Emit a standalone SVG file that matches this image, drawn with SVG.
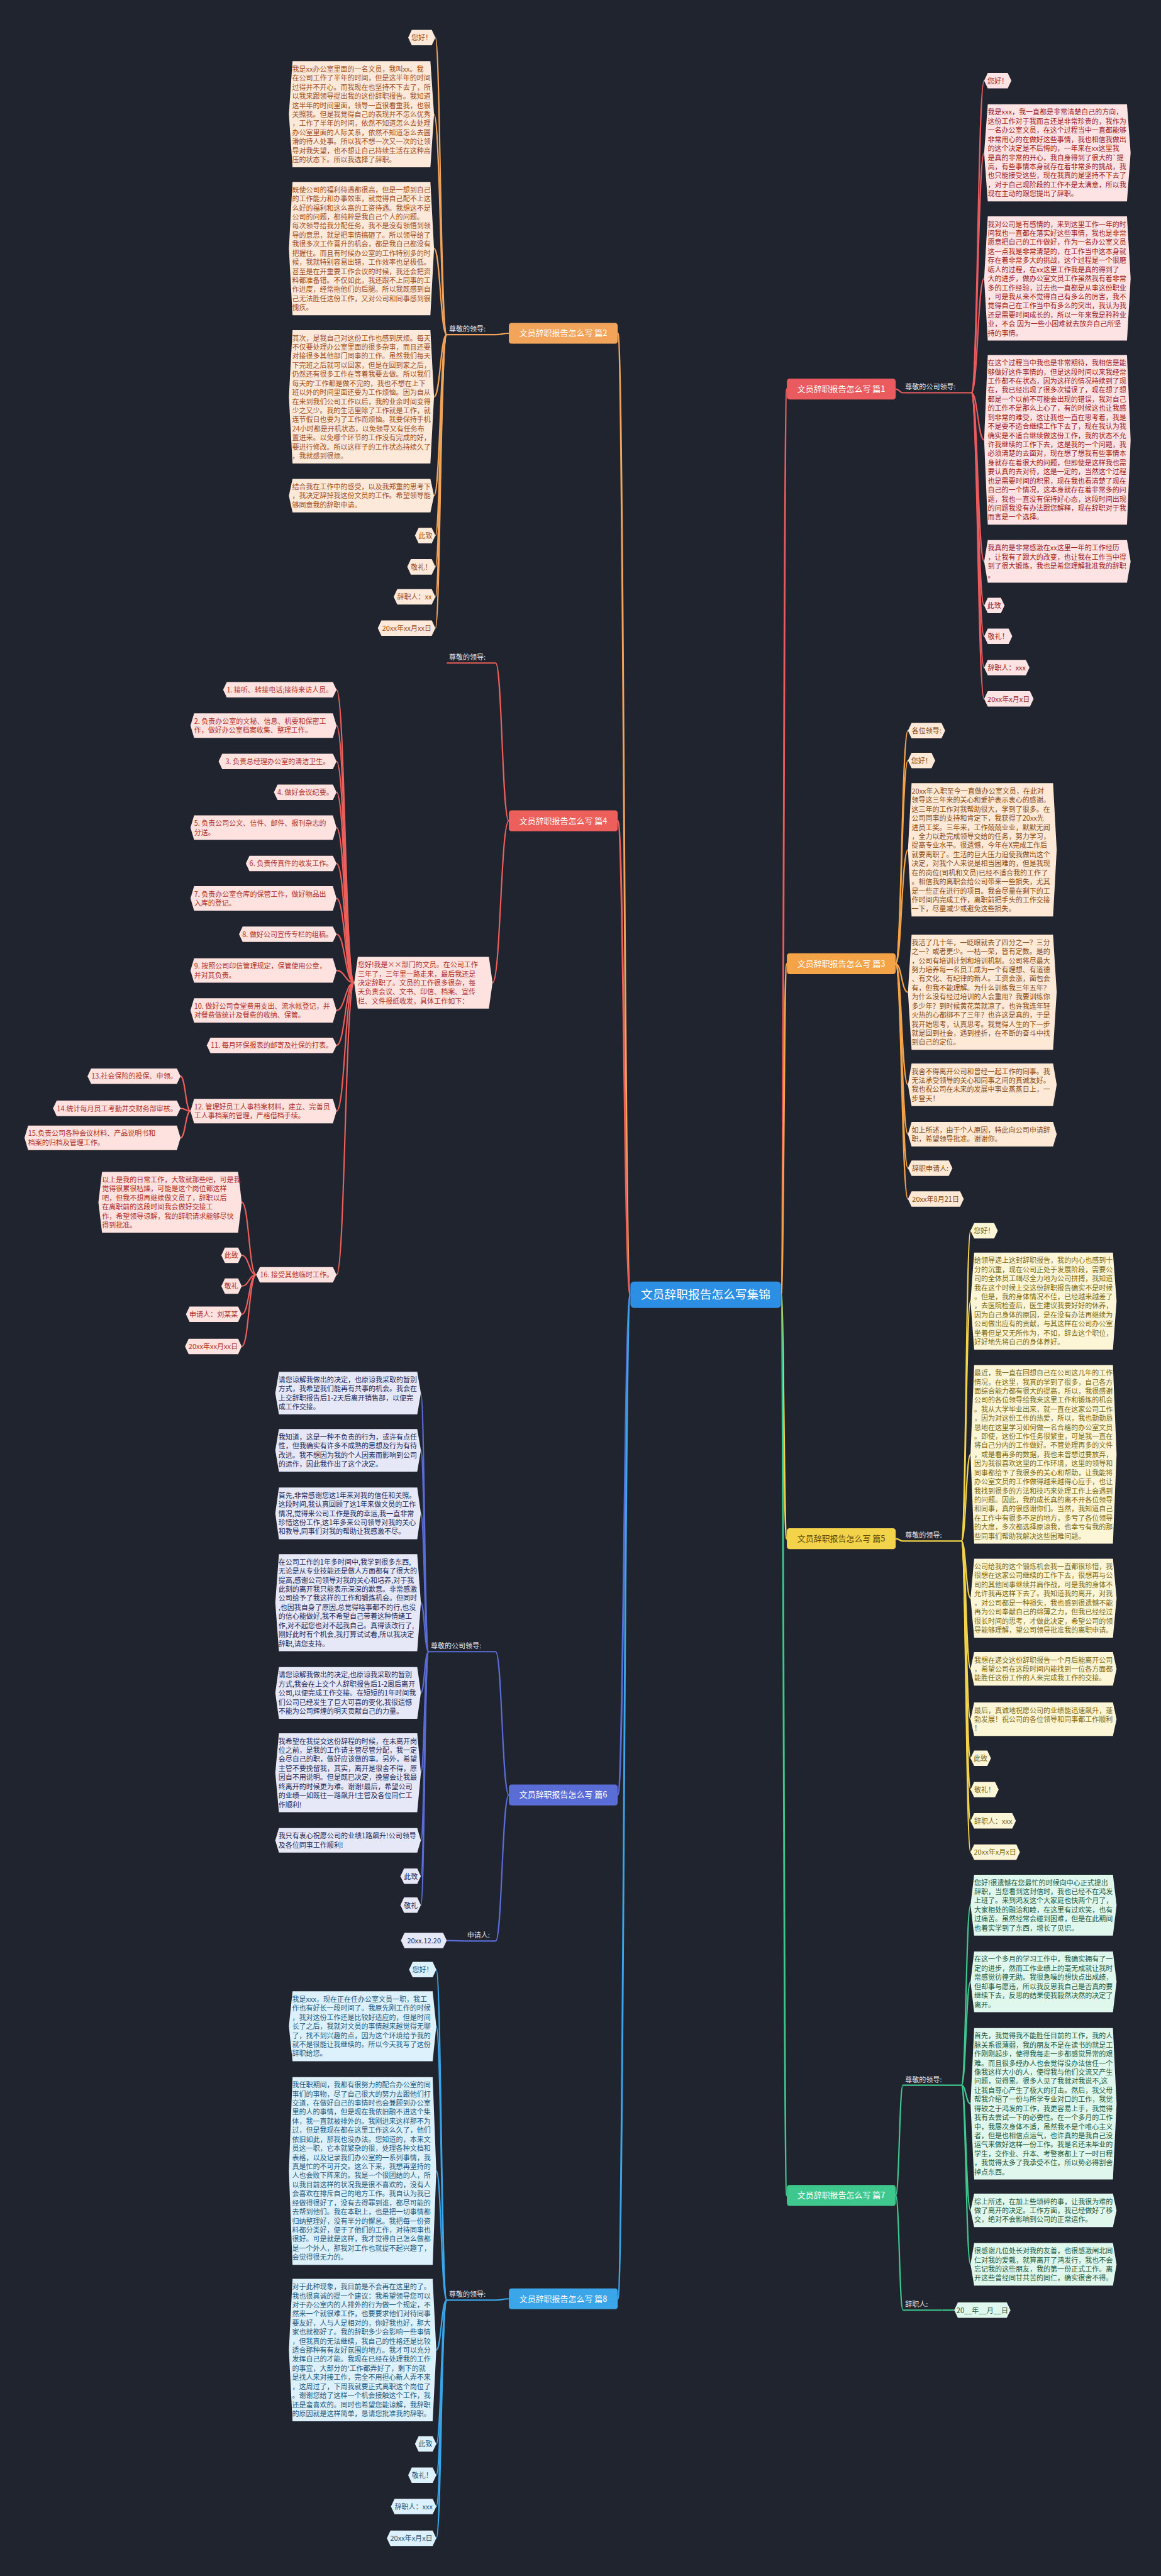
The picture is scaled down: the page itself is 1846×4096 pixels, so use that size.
<svg xmlns="http://www.w3.org/2000/svg" width="1846" height="4096" viewBox="0 0 1846 4096">
<style>
text{font-family:"Noto Sans CJK SC","Noto Sans",sans-serif;font-size:15.3px}
.m{text-anchor:middle}
.lk path{fill:none;stroke-width:3}
.lk path.mn{stroke-width:4}
.br text{fill:#fff;font-size:18px;text-anchor:middle}
.lb text{fill:#e2e4ea}
.lb line{stroke-width:3}
.c1 polygon{fill:#fde3e3}.c1 text{fill:#9e1c1c}
.c2 polygon{fill:#fde9da}.c2 text{fill:#a14f1d}
.c3 polygon{fill:#fde9d6}.c3 text{fill:#8a4a14}
.c4 polygon{fill:#fde2df}.c4 text{fill:#b0302a}
.c5 polygon{fill:#fdf6d6}.c5 text{fill:#7d6a14}
.c6 polygon{fill:#e6e8f7}.c6 text{fill:#222a5a}
.c7 polygon{fill:#dff7ec}.c7 text{fill:#1f5c42}
.c8 polygon{fill:#dcf1fb}.c8 text{fill:#1f5a80}
.s1{stroke:#e95b5e}.s2{stroke:#f2a45a}.s3{stroke:#f4a347}.s4{stroke:#ec5f5a}
.s5{stroke:#f3d34a}.s6{stroke:#5a6cd6}.s7{stroke:#3fc88e}.s8{stroke:#3aa5e8}
</style>
<rect width="1846" height="4096" fill="#20242f"/>
<g transform="scale(0.7211)">
<g class="lk" id="connectors">
<path class="mn s2" d="M1390 2855C1376 2855 1376 735 1362 735"/>
<path class="mn s4" d="M1390 2855C1376 2855 1376 1810 1362 1810"/>
<path class="mn s6" d="M1390 2855C1376 2855 1376 3958 1362 3958"/>
<path class="mn s8" d="M1390 2855C1376 2855 1376 5069 1362 5069"/>
<path class="mn s1" d="M1722 2855C1728 2855 1728 858 1735 858"/>
<path class="mn s3" d="M1722 2855C1728 2855 1728 2125 1735 2125"/>
<path class="mn s5" d="M1722 2855C1728 2855 1728 3393 1735 3393"/>
<path class="mn s7" d="M1722 2855C1728 2855 1728 4841 1735 4841"/>
<g class="s2">
<path d="M1122 735C1107 735 1107 738 1093 738"/>
<path d="M985 738C971 738 971 83 960 83"/><path d="M985 738C971 738 971 252 957 252"/><path d="M985 738C971 738 971 548 957 548"/><path d="M985 738C971 738 971 875 957 875"/><path d="M985 738C971 738 971 1093 957 1093"/><path d="M985 738C971 738 971 1181 960 1181"/><path d="M985 738C971 738 971 1250 960 1250"/><path d="M985 738C971 738 971 1316 960 1316"/><path d="M985 738C971 738 971 1385 960 1385"/>
</g>
<g class="s4">
<path d="M1122 1810C1107 1810 1107 1462 1093 1462"/>
<path d="M1122 1810C1104 1810 1104 2167 1086 2167"/>
<path d="M781 2167C761 2167 761 1521 742 1521"/><path d="M781 2167C761 2167 761 1600 742 1600"/><path d="M781 2167C761 2167 761 1679 742 1679"/><path d="M781 2167C761 2167 761 1747 742 1747"/><path d="M781 2167C761 2167 761 1825 742 1825"/><path d="M781 2167C761 2167 761 1904 742 1904"/><path d="M781 2167C761 2167 761 1981 742 1981"/><path d="M781 2167C761 2167 761 2060 742 2060"/><path d="M781 2167C761 2167 761 2140 742 2140"/><path d="M781 2167C761 2167 761 2228 742 2228"/><path d="M781 2167C761 2167 761 2305 742 2305"/><path d="M781 2167C761 2167 761 2450 742 2450"/><path d="M781 2167C761 2167 761 2811 742 2811"/>
<path d="M420 2450C409 2450 409 2373 398 2373"/><path d="M420 2450C409 2450 409 2444 398 2444"/><path d="M420 2450C409 2450 409 2509 398 2509"/>
<path d="M565 2811C549 2811 549 2651 533 2651"/><path d="M565 2811C549 2811 549 2768 533 2768"/><path d="M565 2811C549 2811 549 2836 533 2836"/><path d="M565 2811C549 2811 549 2898 533 2898"/><path d="M565 2811C549 2811 549 2969 533 2969"/>
</g>
<g class="s6">
<path d="M1122 3958C1107 3958 1107 3642 1093 3642"/>
<path d="M1122 3958C1107 3958 1107 4280 1093 4280"/>
<path d="M945 3642C936 3642 936 3072 928 3072"/><path d="M945 3642C936 3642 936 3198 928 3198"/><path d="M945 3642C936 3642 936 3337 928 3337"/><path d="M945 3642C936 3642 936 3534 928 3534"/><path d="M945 3642C936 3642 936 3733 928 3733"/><path d="M945 3642C936 3642 936 3909 928 3909"/><path d="M945 3642C936 3642 936 4058 928 4058"/><path d="M945 3642C936 3642 936 4137 928 4137"/><path d="M945 3642C936 3642 936 4201 928 4201"/>
<path d="M1025 4280C1005 4280 1005 4279 985 4279"/>
</g>
<g class="s8">
<path d="M1122 5069C1107 5069 1107 5072 1093 5072"/>
<path d="M985 5072C973 5072 973 4343 962 4343"/><path d="M985 5072C973 5072 973 4468 962 4468"/><path d="M985 5072C973 5072 973 4787 962 4787"/><path d="M985 5072C973 5072 973 5182 962 5182"/><path d="M985 5072C973 5072 973 5389 962 5389"/><path d="M985 5072C973 5072 973 5458 962 5458"/><path d="M985 5072C973 5072 973 5527 962 5527"/><path d="M985 5072C973 5072 973 5597 962 5597"/>
</g>
<g class="s1">
<path d="M1975 858C1983 858 1983 866 1991 866"/>
<path d="M2142 866C2156 866 2156 178 2170 178"/><path d="M2142 866C2156 866 2156 337 2170 337"/><path d="M2142 866C2156 866 2156 614 2170 614"/><path d="M2142 866C2156 866 2156 970 2170 970"/><path d="M2142 866C2156 866 2156 1238 2170 1238"/><path d="M2142 866C2156 866 2156 1335 2170 1335"/><path d="M2142 866C2156 866 2156 1403 2170 1403"/><path d="M2142 866C2156 866 2156 1472 2170 1472"/><path d="M2142 866C2156 866 2156 1541 2170 1541"/>
</g>
<g class="s3">
<path d="M1975 2125C1988 2125 1988 1611 2002 1611"/><path d="M1975 2125C1988 2125 1988 1677 2002 1677"/><path d="M1975 2125C1988 2125 1988 1874 2002 1874"/><path d="M1975 2125C1988 2125 1988 2188 2002 2188"/><path d="M1975 2125C1988 2125 1988 2392 2002 2392"/><path d="M1975 2125C1988 2125 1988 2501 2002 2501"/><path d="M1975 2125C1988 2125 1988 2576 2002 2576"/><path d="M1975 2125C1988 2125 1988 2644 2002 2644"/>
</g>
<g class="s5">
<path d="M1975 3393C1983 3393 1983 3398 1991 3398"/>
<path d="M2120 3398C2130 3398 2130 2714 2140 2714"/><path d="M2120 3398C2130 3398 2130 2869 2140 2869"/><path d="M2120 3398C2130 3398 2130 3207 2140 3207"/><path d="M2120 3398C2130 3398 2130 3524 2140 3524"/><path d="M2120 3398C2130 3398 2130 3680 2140 3680"/><path d="M2120 3398C2130 3398 2130 3791 2140 3791"/><path d="M2120 3398C2130 3398 2130 3877 2140 3877"/><path d="M2120 3398C2130 3398 2130 3946 2140 3946"/><path d="M2120 3398C2130 3398 2130 4015 2140 4015"/><path d="M2120 3398C2130 3398 2130 4084 2140 4084"/>
</g>
<g class="s7">
<path d="M1975 4841C1983 4841 1983 4598 1991 4598"/>
<path d="M1975 4841C1983 4841 1983 5094 1991 5094"/>
<path d="M2120 4598C2130 4598 2130 4201 2140 4201"/><path d="M2120 4598C2130 4598 2130 4370 2140 4370"/><path d="M2120 4598C2130 4598 2130 4639 2140 4639"/><path d="M2120 4598C2130 4598 2130 4874 2140 4874"/><path d="M2120 4598C2130 4598 2130 4993 2140 4993"/>
<path d="M2078 5094C2090 5094 2090 5094 2104 5094"/>
</g>
</g>

<g id="center"><rect x="1390" y="2826" width="332" height="58" rx="8" fill="#2d8fe3"/><text x="1556" y="2864" class="m" fill="#fff" style="font-size:26px">文员辞职报告怎么写集锦</text></g>

<g class="br">
<g id="b2"><rect x="1122" y="712" width="240" height="46" rx="6" fill="#f2a45a"/><text x="1242" y="741">文员辞职报告怎么写 篇2</text></g>
<g id="b4"><rect x="1122" y="1787" width="240" height="46" rx="6" fill="#ec5f5a"/><text x="1242" y="1816">文员辞职报告怎么写 篇4</text></g>
<g id="b6"><rect x="1122" y="3935" width="240" height="46" rx="6" fill="#5a6cd6"/><text x="1242" y="3964">文员辞职报告怎么写 篇6</text></g>
<g id="b8"><rect x="1122" y="5046" width="240" height="46" rx="6" fill="#3aa5e8"/><text x="1242" y="5075">文员辞职报告怎么写 篇8</text></g>
<g id="b1"><rect x="1735" y="835" width="240" height="46" rx="6" fill="#e95b5e"/><text x="1855" y="864">文员辞职报告怎么写 篇1</text></g>
<g id="b3"><rect x="1735" y="2102" width="240" height="46" rx="6" fill="#f4a347"/><text x="1855" y="2131">文员辞职报告怎么写 篇3</text></g>
<g id="b5"><rect x="1735" y="3370" width="240" height="46" rx="6" fill="#f3d34a"/><text x="1855" y="3399" style="fill:#5e4b08">文员辞职报告怎么写 篇5</text></g>
<g id="b7"><rect x="1735" y="4818" width="240" height="46" rx="6" fill="#3fc88e"/><text x="1855" y="4847">文员辞职报告怎么写 篇7</text></g>
</g>

<g class="lb">
<g id="l2"><text x="990" y="731">尊敬的领导:</text><line x1="985" y1="738" x2="1093" y2="738" class="s2"/></g>
<g id="l4"><text x="990" y="1455">尊敬的领导:</text><line x1="985" y1="1462" x2="1093" y2="1462" class="s4"/></g>
<g id="l6a"><text x="950" y="3635">尊敬的公司领导:</text><line x1="945" y1="3642" x2="1093" y2="3642" class="s6"/></g>
<g id="l6b"><text x="1030" y="4273">申请人:</text><line x1="1025" y1="4280" x2="1093" y2="4280" class="s6"/></g>
<g id="l8"><text x="990" y="5065">尊敬的领导:</text><line x1="985" y1="5072" x2="1093" y2="5072" class="s8"/></g>
<g id="l1"><text x="1996" y="859">尊敬的公司领导:</text><line x1="1991" y1="866" x2="2142" y2="866" class="s1"/></g>
<g id="l5"><text x="1996" y="3391">尊敬的领导:</text><line x1="1991" y1="3398" x2="2120" y2="3398" class="s5"/></g>
<g id="l7a"><text x="1996" y="4591">尊敬的领导:</text><line x1="1991" y1="4598" x2="2120" y2="4598" class="s7"/></g>
<g id="l7b"><text x="1996" y="5087">辞职人:</text><line x1="1991" y1="5094" x2="2078" y2="5094" class="s7"/></g>
</g>

<g class="c2">
<g id="n2a"><polygon points="908,66 952,66 960,83 952,100 908,100 900,83"/><text x="930" y="89" class="m">您好！</text></g>
<g id="n2b"><polygon points="645,135 949,135 957,252 949,369 645,369 637,252"/><text x="644" y="158"><tspan x="644">我是xx办公室里面的一名文员，我叫xx。我</tspan><tspan x="644" dy="20">在公司工作了半年的时间，但是这半年的时间</tspan><tspan x="644" dy="20">过得并不开心。而我现在也坚持不下去了，所</tspan><tspan x="644" dy="20">以我来跟领导提出我的这份辞职报告。我知道</tspan><tspan x="644" dy="20">这半年的时间里面，领导一直很看重我，也很</tspan><tspan x="644" dy="20">关照我。但是我觉得自己的表现并不怎么优秀</tspan><tspan x="644" dy="20">，工作了半年的时间，依然不知道怎么去处理</tspan><tspan x="644" dy="20">办公室里面的人际关系，依然不知道怎么去圆</tspan><tspan x="644" dy="20">滑的待人处事。所以我不想一次又一次的让领</tspan><tspan x="644" dy="20">导对我失望，也不想让自己持续生活在这种高</tspan><tspan x="644" dy="20">压的状态下。所以我选择了辞职。</tspan></text></g>
<g id="n2c"><polygon points="645,401 949,401 957,548 949,695 645,695 637,548"/><text x="644" y="424"><tspan x="644">既使公司的福利待遇都很高，但是一想到自己</tspan><tspan x="644" dy="20">的工作能力和办事效率，就觉得自己配不上这</tspan><tspan x="644" dy="20">么好的福利和这么高的工资待遇。我想这不是</tspan><tspan x="644" dy="20">公司的问题，都纯粹是我自己个人的问题。</tspan><tspan x="644" dy="20">每次领导给我分配任务，我不是没有领悟到领</tspan><tspan x="644" dy="20">导的意思，就是把事情搞砸了。所以领导给了</tspan><tspan x="644" dy="20">我很多次工作晋升的机会，都是我自己都没有</tspan><tspan x="644" dy="20">把握住。而且有时候办公室的工作特别多的时</tspan><tspan x="644" dy="20">候，我就特别容易出错，工作效率也是极低。</tspan><tspan x="644" dy="20">甚至是在开重要工作会议的时候，我还会把资</tspan><tspan x="644" dy="20">料都准备错。不仅如此，我还跟不上同事的工</tspan><tspan x="644" dy="20">作进度，经常拖他们的后腿。所以我既感到自</tspan><tspan x="644" dy="20">己无法胜任这份工作，又对公司和同事感到很</tspan><tspan x="644" dy="20">愧疚。</tspan></text></g>
<g id="n2d"><polygon points="645,728 949,728 957,875 949,1022 645,1022 637,875"/><text x="644" y="751"><tspan x="644">其次，是我自己对这份工作也感到厌烦。每天</tspan><tspan x="644" dy="20">不仅要处理办公室里面的很多杂事，而且还要</tspan><tspan x="644" dy="20">对接很多其他部门同事的工作。虽然我们每天</tspan><tspan x="644" dy="20">下完班之后就可以回家，但是在回到家之后，</tspan><tspan x="644" dy="20">仍然还有很多工作在等着我要去做。所以我们</tspan><tspan x="644" dy="20">每天的'工作都是做不完的，我也不想在上下</tspan><tspan x="644" dy="20">班以外的时间里面还要为工作烦恼。因为自从</tspan><tspan x="644" dy="20">在来到我们公司工作以后，我的业余时间变得</tspan><tspan x="644" dy="20">少之又少。我的生活里除了工作就是工作，就</tspan><tspan x="644" dy="20">连节假日也要为了工作而烦恼。我要保持手机</tspan><tspan x="644" dy="20">24小时都是开机状态，以免领导又有任务布</tspan><tspan x="644" dy="20">置进来。以免哪个环节的工作没有完成的好，</tspan><tspan x="644" dy="20">要进行修改。所以这样子的工作状态持续久了</tspan><tspan x="644" dy="20">，我就感到很烦。</tspan></text></g>
<g id="n2e"><polygon points="645,1056 949,1056 957,1093 949,1130 645,1130 637,1093"/><text x="644" y="1079"><tspan x="644">结合我在工作中的感受，以及我郑重的思考下</tspan><tspan x="644" dy="20">，我决定辞掉我这份文员的工作。希望领导能</tspan><tspan x="644" dy="20">够同意我的辞职申请。</tspan></text></g>
<g id="n2f"><polygon points="923,1164 952,1164 960,1181 952,1198 923,1198 915,1181"/><text x="938" y="1187" class="m">此致</text></g>
<g id="n2g"><polygon points="906,1233 952,1233 960,1250 952,1267 906,1267 898,1250"/><text x="929" y="1256" class="m">敬礼！</text></g>
<g id="n2h"><polygon points="876,1299 952,1299 960,1316 952,1333 876,1333 868,1316"/><text x="914" y="1322" class="m">辞职人：xx</text></g>
<g id="n2i"><polygon points="841,1368 952,1368 960,1385 952,1402 841,1402 833,1385"/><text x="897" y="1391" class="m">20xx年xx月xx日</text></g>
</g>

<g class="c4">
<g id="n4p"><polygon points="789,2110 1078,2110 1086,2167 1078,2224 789,2224 781,2167"/><text x="789" y="2133"><tspan x="789">您好!我是××部门的文员。在公司工作</tspan><tspan x="789" dy="20">三年了，三年里一路走来，最后我还是</tspan><tspan x="789" dy="20">决定辞职了。文员的工作很多很杂，每</tspan><tspan x="789" dy="20">天负责会议、文书、印信、档案、宣传</tspan><tspan x="789" dy="20">栏、文件报纸收发，具体工作如下：</tspan></text></g>
<g id="n4i1"><polygon points="500,1504 734,1504 742,1521 734,1538 500,1538 492,1521"/><text x="617" y="1527" class="m">1. 接听、转接电话;接待来访人员。</text></g>
<g id="n4i2"><polygon points="428,1573 734,1573 742,1600 734,1627 428,1627 420,1600"/><text x="428" y="1596"><tspan x="428">2. 负责办公室的文秘、信息、机要和保密工</tspan><tspan x="428" dy="20">作，做好办公室档案收集、整理工作。</tspan></text></g>
<g id="n4i3"><polygon points="490,1662 734,1662 742,1679 734,1696 490,1696 482,1679"/><text x="612" y="1685" class="m">3. 负责总经理办公室的清洁卫生。</text></g>
<g id="n4i4"><polygon points="612,1730 734,1730 742,1747 734,1764 612,1764 604,1747"/><text x="673" y="1753" class="m">4. 做好会议纪要。</text></g>
<g id="n4i5"><polygon points="428,1798 734,1798 742,1825 734,1852 428,1852 420,1825"/><text x="428" y="1821"><tspan x="428">5. 负责公司公文、信件、邮件、报刊杂志的</tspan><tspan x="428" dy="20">分送。</tspan></text></g>
<g id="n4i6"><polygon points="550,1887 734,1887 742,1904 734,1921 550,1921 542,1904"/><text x="642" y="1910" class="m">6. 负责传真件的收发工作。</text></g>
<g id="n4i7"><polygon points="428,1954 734,1954 742,1981 734,2008 428,2008 420,1981"/><text x="428" y="1977"><tspan x="428">7. 负责办公室仓库的保管工作，做好物品出</tspan><tspan x="428" dy="20">入库的登记。</tspan></text></g>
<g id="n4i8"><polygon points="535,2043 734,2043 742,2060 734,2077 535,2077 527,2060"/><text x="634" y="2066" class="m">8. 做好公司宣传专栏的组稿。</text></g>
<g id="n4i9"><polygon points="428,2113 734,2113 742,2140 734,2167 428,2167 420,2140"/><text x="428" y="2136"><tspan x="428">9. 按照公司印信管理规定，保管使用公章，</tspan><tspan x="428" dy="20">并对其负责。</tspan></text></g>
<g id="n4i10"><polygon points="428,2201 734,2201 742,2228 734,2255 428,2255 420,2228"/><text x="428" y="2224"><tspan x="428">10. 做好公司食堂费用支出、流水帐登记，并</tspan><tspan x="428" dy="20">对餐费做统计及餐费的收纳、保管。</tspan></text></g>
<g id="n4i11"><polygon points="464,2288 734,2288 742,2305 734,2322 464,2322 456,2305"/><text x="599" y="2311" class="m">11. 每月环保报表的邮寄及社保的打表。</text></g>
<g id="n4i12"><polygon points="428,2423 734,2423 742,2450 734,2477 428,2477 420,2450"/><text x="428" y="2446"><tspan x="428">12. 管理好员工人事档案材料，建立、完善员</tspan><tspan x="428" dy="20">工人事档案的管理，严格借档手续。</tspan></text></g>
<g id="n4i13"><polygon points="201,2356 390,2356 398,2373 390,2390 201,2390 193,2373"/><text x="296" y="2379" class="m">13.社会保险的投保、申领。</text></g>
<g id="n4i14"><polygon points="125,2427 390,2427 398,2444 390,2461 125,2461 117,2444"/><text x="258" y="2450" class="m">14.统计每月员工考勤并交财务部审核。</text></g>
<g id="n4i15"><polygon points="62,2482 390,2482 398,2509 390,2536 62,2536 54,2509"/><text x="62" y="2505"><tspan x="62">15.负责公司各种会议材料、产品说明书和</tspan><tspan x="62" dy="20">档案的归档及管理工作。</tspan></text></g>
<g id="n4i16"><polygon points="573,2794 734,2794 742,2811 734,2828 573,2828 565,2811"/><text x="654" y="2817" class="m">16. 接受其他临时工作。</text></g>
<g id="n4q"><polygon points="225,2584 525,2584 533,2651 525,2718 225,2718 217,2651"/><text x="225" y="2607"><tspan x="225">以上是我的日常工作，大致就那些吧，可是我</tspan><tspan x="225" dy="20">觉得很累很枯燥，可能是这个岗位都这样</tspan><tspan x="225" dy="20">吧，但我不想再继续做文员了，辞职以后</tspan><tspan x="225" dy="20">在离职前的这段时间我会做好交接工</tspan><tspan x="225" dy="20">作，希望领导谅解，我的辞职请求能够尽快</tspan><tspan x="225" dy="20">得到批准。</tspan></text></g>
<g id="n4r"><polygon points="496,2751 525,2751 533,2768 525,2785 496,2785 488,2768"/><text x="510" y="2774" class="m">此致</text></g>
<g id="n4s"><polygon points="496,2819 525,2819 533,2836 525,2853 496,2853 488,2836"/><text x="510" y="2842" class="m">敬礼</text></g>
<g id="n4t"><polygon points="418,2881 525,2881 533,2898 525,2915 418,2915 410,2898"/><text x="471" y="2904" class="m">申请人：刘某某</text></g>
<g id="n4u"><polygon points="416,2952 525,2952 533,2969 525,2986 416,2986 408,2969"/><text x="470" y="2975" class="m">20xx年xx月xx日</text></g>
</g>

<g class="c6">
<g id="n6a"><polygon points="615,3025 920,3025 928,3072 920,3119 615,3119 607,3072"/><text x="614" y="3048"><tspan x="614">请您谅解我做出的决定，也原谅我采取的暂别</tspan><tspan x="614" dy="20">方式，我希望我们能再有共事的机会。我会在</tspan><tspan x="614" dy="20">上交辞职报告后1-2天后离开销售部，以便完</tspan><tspan x="614" dy="20">成工作交接。</tspan></text></g>
<g id="n6b"><polygon points="615,3151 920,3151 928,3198 920,3245 615,3245 607,3198"/><text x="614" y="3174"><tspan x="614">我知道，这是一种不负责的行为，或许有点任</tspan><tspan x="614" dy="20">性，但我确实有许多不成熟的思想及行为有待</tspan><tspan x="614" dy="20">改进。我不想因为我的个人因素而影响到公司</tspan><tspan x="614" dy="20">的运作，因此我作出了这个决定。</tspan></text></g>
<g id="n6c"><polygon points="615,3280 920,3280 928,3337 920,3394 615,3394 607,3337"/><text x="614" y="3303"><tspan x="614">首先,非常感谢您这1年来对我的信任和关照。</tspan><tspan x="614" dy="20">这段时间,我认真回顾了这1年来做文员的工作</tspan><tspan x="614" dy="20">情况,觉得来公司工作是我的幸运,我一直非常</tspan><tspan x="614" dy="20">珍惜这份工作,这1年多来公司领导对我的关心</tspan><tspan x="614" dy="20">和教导,同事们对我的帮助让我感激不尽。</tspan></text></g>
<g id="n6d"><polygon points="615,3427 920,3427 928,3534 920,3641 615,3641 607,3534"/><text x="614" y="3450"><tspan x="614">在公司工作的1年多时间中,我学到很多东西,</tspan><tspan x="614" dy="20">无论是从专业技能还是做人方面都有了很大的</tspan><tspan x="614" dy="20">提高,感谢公司领导对我的关心和培养,对于我</tspan><tspan x="614" dy="20">此刻的离开我只能表示深深的歉意。非常感激</tspan><tspan x="614" dy="20">公司给予了我这样的工作和锻炼机会。但同时</tspan><tspan x="614" dy="20">,也因我自身了原因,总觉得啥事都不的行,也没</tspan><tspan x="614" dy="20">的信心能做好,我不希望自己带着这种情绪工</tspan><tspan x="614" dy="20">作,对不起您也对不起我自己。真得该改行了,</tspan><tspan x="614" dy="20">刚好此时有个机会,我打算试试看,所以我决定</tspan><tspan x="614" dy="20">辞职,请您支持。</tspan></text></g>
<g id="n6e"><polygon points="615,3676 920,3676 928,3733 920,3790 615,3790 607,3733"/><text x="614" y="3699"><tspan x="614">请您谅解我做出的决定,也原谅我采取的暂别</tspan><tspan x="614" dy="20">方式,我会在上交个人辞职报告后1-2周后离开</tspan><tspan x="614" dy="20">公司,以便完成工作交接。在短短的1年时间我</tspan><tspan x="614" dy="20">们公司已经发生了巨大可喜的变化,我很遗憾</tspan><tspan x="614" dy="20">不能为公司辉煌的明天贡献自己的力量。</tspan></text></g>
<g id="n6f"><polygon points="615,3822 920,3822 928,3909 920,3996 615,3996 607,3909"/><text x="614" y="3845"><tspan x="614">我希望在我提交这份辞程的时候，在未离开岗</tspan><tspan x="614" dy="20">位之前，是我的工作请主管尽管分配，我一定</tspan><tspan x="614" dy="20">会尽自己的职，做好应该做的事。另外，希望</tspan><tspan x="614" dy="20">主管不要挽留我，其实，离开是很舍不得，原</tspan><tspan x="614" dy="20">因自不用说明。但是既已决定，挽留会让我最</tspan><tspan x="614" dy="20">终离开的时候更为难。谢谢!最后，希望公司</tspan><tspan x="614" dy="20">的业绩一如既往一路飙升!主管及各位同仁工</tspan><tspan x="614" dy="20">作顺利!</tspan></text></g>
<g id="n6g"><polygon points="615,4031 920,4031 928,4058 920,4085 615,4085 607,4058"/><text x="614" y="4054"><tspan x="614">我只有衷心祝愿公司的业绩1路飙升!公司领导</tspan><tspan x="614" dy="20">及各位同事工作顺利!</tspan></text></g>
<g id="n6h"><polygon points="891,4120 920,4120 928,4137 920,4154 891,4154 883,4137"/><text x="906" y="4143" class="m">此致</text></g>
<g id="n6i"><polygon points="891,4184 920,4184 928,4201 920,4218 891,4218 883,4201"/><text x="906" y="4207" class="m">敬礼</text></g>
<g id="n6j"><polygon points="892,4262 977,4262 985,4279 977,4296 892,4296 884,4279"/><text x="935" y="4285" class="m">20xx.12.20</text></g>
</g>

<g class="c8">
<g id="n8a"><polygon points="910,4326 954,4326 962,4343 954,4360 910,4360 902,4343"/><text x="932" y="4349" class="m">您好！</text></g>
<g id="n8b"><polygon points="645,4391 954,4391 962,4468 954,4545 645,4545 637,4468"/><text x="644" y="4414"><tspan x="644">我是xxx，现在正在任办公室文员一职，我工</tspan><tspan x="644" dy="20">作也有好长一段时间了。我原先刚工作的时候</tspan><tspan x="644" dy="20">，我对这份工作还是比较好适应的，但是时间</tspan><tspan x="644" dy="20">长了之后，我就对文员的事情越来越觉得无聊</tspan><tspan x="644" dy="20">了，找不到兴趣的点，因为这个环境给予我的</tspan><tspan x="644" dy="20">就不是很能让我继续的。所以今天我写了这份</tspan><tspan x="644" dy="20">辞职给您。</tspan></text></g>
<g id="n8c"><polygon points="645,4580 954,4580 962,4787 954,4994 645,4994 637,4787"/><text x="644" y="4603"><tspan x="644">我任职期间，我都有很努力的配合办公室的同</tspan><tspan x="644" dy="20">事们的事物，尽了自己很大的努力去跟他们打</tspan><tspan x="644" dy="20">交道，在做好自己的事情时也会兼顾到办公室</tspan><tspan x="644" dy="20">里的人的事情，但是现在我依旧融不进这个集</tspan><tspan x="644" dy="20">体，我一直就被排外的。我刚进来这样那不为</tspan><tspan x="644" dy="20">过，但是我现在都在这里工作这么久了，他们</tspan><tspan x="644" dy="20">依旧如此，那我也没办法。您知道的，本来文</tspan><tspan x="644" dy="20">员这一职，它本就繁杂的很，处理各种文档和</tspan><tspan x="644" dy="20">表格，以及记录我们办公室的一系列事情，我</tspan><tspan x="644" dy="20">真是忙的不可开交。这么下来，我想再坚持的</tspan><tspan x="644" dy="20">人也会败下阵来的。我是一个很团结的人，所</tspan><tspan x="644" dy="20">以我目前这样的状况我是很不喜欢的，没有人</tspan><tspan x="644" dy="20">会喜欢在排斥自己的地方工作。我自认为我已</tspan><tspan x="644" dy="20">经做得很好了，没有去得罪到谁，都尽可能的</tspan><tspan x="644" dy="20">去帮到他们。我在本职上，也是把一切事情都</tspan><tspan x="644" dy="20">归纳整理好，没有半分的懈怠。我把每一份资</tspan><tspan x="644" dy="20">料都分类好，便于了他们的工作，对待同事也</tspan><tspan x="644" dy="20">很好。可是就是这样，我才觉得自己怎么做都</tspan><tspan x="644" dy="20">是一个外人，那我对工作也就提不起兴趣了，</tspan><tspan x="644" dy="20">会觉得很无力的。</tspan></text></g>
<g id="n8d"><polygon points="645,5025 954,5025 962,5182 954,5339 645,5339 637,5182"/><text x="644" y="5048"><tspan x="644">对于此种现象，我目前是不会再在这里的了。</tspan><tspan x="644" dy="20">我也很真诚的提一个建议：我希望领导您可以</tspan><tspan x="644" dy="20">对于办公室内的人排外的行为做一个规定，不</tspan><tspan x="644" dy="20">然来一个就很难工作，也要要求他们对待同事</tspan><tspan x="644" dy="20">要友好，人与人是相对的，你好我也好，那大</tspan><tspan x="644" dy="20">家也就都好了。我的辞职多少会影响一些事情</tspan><tspan x="644" dy="20">，但我真的无法继续，我自己的性格还是比较</tspan><tspan x="644" dy="20">适合那种有有友好氛围的地方。我才可以充分</tspan><tspan x="644" dy="20">发挥自己的才能。我现在已经在处理我的工作</tspan><tspan x="644" dy="20">的事宜，大部分的'工作都弄好了，剩下的就</tspan><tspan x="644" dy="20">是找人来对接工作，完全不用担心新人弄不来</tspan><tspan x="644" dy="20">，这周过了，下周我就要正式离职这个岗位了</tspan><tspan x="644" dy="20">。谢谢您给了这样一个机会接触这个工作，我</tspan><tspan x="644" dy="20">还是蛮喜欢的。同时也希望您能谅解，我辞职</tspan><tspan x="644" dy="20">的原因就是这样简单，恳请您批准我的辞职。</tspan></text></g>
<g id="n8e"><polygon points="923,5372 954,5372 962,5389 954,5406 923,5406 915,5389"/><text x="938" y="5395" class="m">此致</text></g>
<g id="n8f"><polygon points="908,5441 954,5441 962,5458 954,5475 908,5475 900,5458"/><text x="931" y="5464" class="m">敬礼！</text></g>
<g id="n8g"><polygon points="870,5510 954,5510 962,5527 954,5544 870,5544 862,5527"/><text x="912" y="5533" class="m">辞职人：xxx</text></g>
<g id="n8h"><polygon points="861,5580 954,5580 962,5597 954,5614 861,5614 853,5597"/><text x="907" y="5603" class="m">20xx年x月x日</text></g>
</g>

<g class="c1">
<g id="n1a"><polygon points="2178,161 2222,161 2230,178 2222,195 2178,195 2170,178"/><text x="2200" y="184" class="m">您好！</text></g>
<g id="n1b"><polygon points="2178,230 2485,230 2493,337 2485,444 2178,444 2170,337"/><text x="2178" y="253"><tspan x="2178">我是xxx，我一直都是非常清楚自己的方向，</tspan><tspan x="2178" dy="20">这份工作对于我而言还是非常珍贵的，我作为</tspan><tspan x="2178" dy="20">一名办公室文员，在这个过程当中一直都能够</tspan><tspan x="2178" dy="20">非常用心的在做好这些事情，我也相信我做出</tspan><tspan x="2178" dy="20">的这个决定是不后悔的，一年来在xx这里我</tspan><tspan x="2178" dy="20">是真的非常的开心，我自身得到了很大的`提</tspan><tspan x="2178" dy="20">高，有些事情本身就存在着非常多的挑战，我</tspan><tspan x="2178" dy="20">也只能接受这些，现在我真的是坚持不下去了</tspan><tspan x="2178" dy="20">，对于自己现阶段的工作不是太满意，所以我</tspan><tspan x="2178" dy="20">现在主动的跟您提出了辞职。</tspan></text></g>
<g id="n1c"><polygon points="2178,477 2485,477 2493,614 2485,751 2178,751 2170,614"/><text x="2178" y="500"><tspan x="2178">我对公司是有感情的，来到这里工作一年的时</tspan><tspan x="2178" dy="20">间我也一直都在落实好这些事情，我也是非常</tspan><tspan x="2178" dy="20">愿意把自己的工作做好，作为一名办公室文员</tspan><tspan x="2178" dy="20">这一点我是非常清楚的，在工作当中这本身就</tspan><tspan x="2178" dy="20">存在着非常多大的挑战，这个过程是一个很磨</tspan><tspan x="2178" dy="20">砺人的过程，在xx这里工作我是真的得到了</tspan><tspan x="2178" dy="20">大的进步，做办公室文员工作虽然我有着非常</tspan><tspan x="2178" dy="20">多的工作经验，过去也一直都是从事这份职业</tspan><tspan x="2178" dy="20">，可是我从来不觉得自己有多么的厉害，我不</tspan><tspan x="2178" dy="20">觉得自己在工作当中有多么的突出，我认为我</tspan><tspan x="2178" dy="20">还是需要时间成长的，所以一年来我是矜矜业</tspan><tspan x="2178" dy="20">业，不会 因为一些小困难就去放弃自己所坚</tspan><tspan x="2178" dy="20">持的事情。</tspan></text></g>
<g id="n1d"><polygon points="2178,783 2485,783 2493,970 2485,1157 2178,1157 2170,970"/><text x="2178" y="806"><tspan x="2178">在这个过程当中我也是非常期待，我相信是能</tspan><tspan x="2178" dy="20">够做好这件事情的，但是这段时间以来我经常</tspan><tspan x="2178" dy="20">工作都不在状态，因为这样的情况持续到了现</tspan><tspan x="2178" dy="20">在，我已经出现了很多次错误了，现在想了想</tspan><tspan x="2178" dy="20">都是一个以前不可能会出现的错误，我对自己</tspan><tspan x="2178" dy="20">的工作不是那么上心了，有的时候这也让我感</tspan><tspan x="2178" dy="20">到非常的难受，这让我也一直在思考着，我是</tspan><tspan x="2178" dy="20">不是要不适合继续工作下去了，现在我认为我</tspan><tspan x="2178" dy="20">确实是不适合继续做这份工作，我的状态不允</tspan><tspan x="2178" dy="20">许我继续的工作下去，这是我的一个问题，我</tspan><tspan x="2178" dy="20">必须清楚的去面对，现在想了想我有些事情本</tspan><tspan x="2178" dy="20">身就存在着很大的问题，但即使是这样我也需</tspan><tspan x="2178" dy="20">要认真的去对待，这是一定的，当然这个过程</tspan><tspan x="2178" dy="20">也是需要时间的积累，现在我也看清楚了现在</tspan><tspan x="2178" dy="20">自己的一个情况，这本身就存在着非常多的问</tspan><tspan x="2178" dy="20">题，我也一直没有保持好心态，这段时间出现</tspan><tspan x="2178" dy="20">的问题我没有办法跟您解释，现在辞职对于我</tspan><tspan x="2178" dy="20">而言是一个选择。</tspan></text></g>
<g id="n1e"><polygon points="2178,1191 2485,1191 2493,1238 2485,1285 2178,1285 2170,1238"/><text x="2178" y="1214"><tspan x="2178">我真的是非常感激在xx这里一年的工作经历</tspan><tspan x="2178" dy="20">，让我有了跟大的改变，也让我在工作当中得</tspan><tspan x="2178" dy="20">到了很大锻炼，我也是希您理解批准我的辞职</tspan><tspan x="2178" dy="20">。</tspan></text></g>
<g id="n1f"><polygon points="2178,1318 2207,1318 2215,1335 2207,1352 2178,1352 2170,1335"/><text x="2192" y="1341" class="m">此致</text></g>
<g id="n1g"><polygon points="2178,1386 2224,1386 2232,1403 2224,1420 2178,1420 2170,1403"/><text x="2201" y="1409" class="m">敬礼！</text></g>
<g id="n1h"><polygon points="2178,1455 2262,1455 2270,1472 2262,1489 2178,1489 2170,1472"/><text x="2220" y="1478" class="m">辞职人：xxx</text></g>
<g id="n1i"><polygon points="2178,1524 2271,1524 2279,1541 2271,1558 2178,1558 2170,1541"/><text x="2224" y="1547" class="m">20xx年x月x日</text></g>
</g>

<g class="c3">
<g id="n3a"><polygon points="2010,1594 2076,1594 2084,1611 2076,1628 2010,1628 2002,1611"/><text x="2043" y="1617" class="m">各位领导:</text></g>
<g id="n3b"><polygon points="2010,1660 2054,1660 2062,1677 2054,1694 2010,1694 2002,1677"/><text x="2032" y="1683" class="m">您好！</text></g>
<g id="n3c"><polygon points="2010,1727 2322,1727 2330,1874 2322,2021 2010,2021 2002,1874"/><text x="2010" y="1750"><tspan x="2010">20xx年入职至今一直做办公室文员，在此对</tspan><tspan x="2010" dy="20">领导这三年来的关心和爱护表示衷心的感谢。</tspan><tspan x="2010" dy="20">这三年的工作对我帮助很大，学到了很多。在</tspan><tspan x="2010" dy="20">公司同事的支持和肯定下，我获得了20xx先</tspan><tspan x="2010" dy="20">进员工奖。三年来，工作兢兢业业，默默无闻</tspan><tspan x="2010" dy="20">，全力以赴完成领导交给的任务，努力学习，</tspan><tspan x="2010" dy="20">提高专业水平。很遗憾，今年在X完成工作后</tspan><tspan x="2010" dy="20">就要离职了。生活的巨大压力迫使我做出这个</tspan><tspan x="2010" dy="20">决定，对我个人来说是相当困难的，但是我现</tspan><tspan x="2010" dy="20">在的岗位(司机和文员)已经不适合我的工作了</tspan><tspan x="2010" dy="20">。相信我的离职会给公司带来一些损失，尤其</tspan><tspan x="2010" dy="20">是一些正在进行的项目。我会尽量在剩下的工</tspan><tspan x="2010" dy="20">作时间内完成工作，离职前把手头的工作交接</tspan><tspan x="2010" dy="20">一下，尽量减少或避免这些损失。</tspan></text></g>
<g id="n3d"><polygon points="2010,2061 2322,2061 2330,2188 2322,2315 2010,2315 2002,2188"/><text x="2010" y="2084"><tspan x="2010">我活了几十年，一眨眼就去了四分之一？三分</tspan><tspan x="2010" dy="20">之一？或者更少。一枯一荣，皆有定数。是的</tspan><tspan x="2010" dy="20">，公司有培训计划和培训机制。公司将尽最大</tspan><tspan x="2010" dy="20">努力培养每一名员工成为一个有理想、有道德</tspan><tspan x="2010" dy="20">、有文化、有纪律的新人。工资会涨，面包会</tspan><tspan x="2010" dy="20">有，但我不能理解。为什么训练我三年五年？</tspan><tspan x="2010" dy="20">为什么没有经过培训的人会重用？我要训练你</tspan><tspan x="2010" dy="20">多少年？到时候黄花菜就凉了。也许我连年轻</tspan><tspan x="2010" dy="20">火热的心都绑不了三年？也许这是真的，于是</tspan><tspan x="2010" dy="20">我开始思考，认真思考。我觉得人生的下一步</tspan><tspan x="2010" dy="20">就是回到社会，遇到挫折，在不断的奋斗中找</tspan><tspan x="2010" dy="20">到自己的定位。</tspan></text></g>
<g id="n3e"><polygon points="2010,2345 2322,2345 2330,2392 2322,2439 2010,2439 2002,2392"/><text x="2010" y="2368"><tspan x="2010">我舍不得离开公司和曾经一起工作的同事。我</tspan><tspan x="2010" dy="20">无法承受领导的关心和同事之间的真诚友好。</tspan><tspan x="2010" dy="20">我也祝公司在未来的发展中事业蒸蒸日上，一</tspan><tspan x="2010" dy="20">步登天！</tspan></text></g>
<g id="n3f"><polygon points="2010,2474 2322,2474 2330,2501 2322,2528 2010,2528 2002,2501"/><text x="2010" y="2497"><tspan x="2010">如上所述，由于个人原因，特此向公司申请辞</tspan><tspan x="2010" dy="20">职，希望领导批准。谢谢你。</tspan></text></g>
<g id="n3g"><polygon points="2010,2559 2092,2559 2100,2576 2092,2593 2010,2593 2002,2576"/><text x="2051" y="2582" class="m">辞职申请人:</text></g>
<g id="n3h"><polygon points="2010,2627 2117,2627 2125,2644 2117,2661 2010,2661 2002,2644"/><text x="2063" y="2650" class="m">20xx年8月21日</text></g>
</g>

<g class="c5">
<g id="n5a"><polygon points="2148,2697 2192,2697 2200,2714 2192,2731 2148,2731 2140,2714"/><text x="2170" y="2720" class="m">您好！</text></g>
<g id="n5b"><polygon points="2148,2762 2454,2762 2462,2869 2454,2976 2148,2976 2140,2869"/><text x="2148" y="2785"><tspan x="2148">给领导递上这封辞职报告，我的内心也感到十</tspan><tspan x="2148" dy="20">分的沉重，现在公司正处于发展阶段，需要公</tspan><tspan x="2148" dy="20">司的全体员工竭尽全力地为公司拼搏，我知道</tspan><tspan x="2148" dy="20">我在这个时候上交这份辞职报告确实不是时候</tspan><tspan x="2148" dy="20">。但是，我的身体情况不佳，已经越来越差了</tspan><tspan x="2148" dy="20">，去医院检查后，医生建议我要好好的休养，</tspan><tspan x="2148" dy="20">因为自己身体的原因，是在没有办法再继续为</tspan><tspan x="2148" dy="20">公司做出应有的贡献，与其这样在公司办公室</tspan><tspan x="2148" dy="20">坐着但是又无所作为，不如，辞去这个职位，</tspan><tspan x="2148" dy="20">好好地先将自己的身体养好。</tspan></text></g>
<g id="n5c"><polygon points="2148,3010 2454,3010 2462,3207 2454,3404 2148,3404 2140,3207"/><text x="2148" y="3033"><tspan x="2148">最近，我一直在回想自己在公司这几年的工作</tspan><tspan x="2148" dy="20">情况，在这里，我真的学到了很多，自己各方</tspan><tspan x="2148" dy="20">面综合能力都有很大的提高，所以，我很感谢</tspan><tspan x="2148" dy="20">公司的各位领导给我来这里工作和锻炼的机会</tspan><tspan x="2148" dy="20">。我从大学毕业出来，就一直在这家公司工作</tspan><tspan x="2148" dy="20">，因为对这份工作的热爱，所以，我也勤勤恳</tspan><tspan x="2148" dy="20">恳地在这里学习如何做一名合格的办公室文员</tspan><tspan x="2148" dy="20">。即使，这份工作任务很繁重，可是我一直在</tspan><tspan x="2148" dy="20">将自己分内的工作做好。不管处理再多的文件</tspan><tspan x="2148" dy="20">，或是看再多的数据，我也未曾想过要放弃，</tspan><tspan x="2148" dy="20">因为我很喜欢这里的工作环境，这里的领导和</tspan><tspan x="2148" dy="20">同事都给予了我很多的关心和帮助，让我能将</tspan><tspan x="2148" dy="20">办公室文员的工作做得越来越得心应手，也让</tspan><tspan x="2148" dy="20">我找到很多的方法和技巧来处理工作上会遇到</tspan><tspan x="2148" dy="20">的问题。因此，我的成长真的离不开各位领导</tspan><tspan x="2148" dy="20">和同事，真的很感谢你们。当然，我知道自己</tspan><tspan x="2148" dy="20">在工作中有很多不足的地方，多亏了各位领导</tspan><tspan x="2148" dy="20">的大度，多次都选择原谅我，也幸亏有我的那</tspan><tspan x="2148" dy="20">些同事们帮助我解决这些困难问题。</tspan></text></g>
<g id="n5d"><polygon points="2148,3437 2454,3437 2462,3524 2454,3611 2148,3611 2140,3524"/><text x="2148" y="3460"><tspan x="2148">公司给我的这个锻炼机会我一直都很珍惜，我</tspan><tspan x="2148" dy="20">很想在这家公司继续的工作下去，很想再与公</tspan><tspan x="2148" dy="20">司的其他同事继续并肩作战，可是我的身体不</tspan><tspan x="2148" dy="20">允许我再这样下去了。我知道我的离开，对我</tspan><tspan x="2148" dy="20">，对公司都是一种损失，我也感到很遗憾不能</tspan><tspan x="2148" dy="20">再为公司奉献自己的绵薄之力，但我已经经过</tspan><tspan x="2148" dy="20">很长时间的思考，才做此决定，希望公司的领</tspan><tspan x="2148" dy="20">导能够理解，望公司领导批准我的离职申请。</tspan></text></g>
<g id="n5e"><polygon points="2148,3643 2454,3643 2462,3680 2454,3717 2148,3717 2140,3680"/><text x="2148" y="3666"><tspan x="2148">我想在递交这份辞职报告一个月后能离开公司</tspan><tspan x="2148" dy="20">，希望公司在这段时间内能找到一位各方面都</tspan><tspan x="2148" dy="20">能胜任这份工作的人来完成我工作的交接。</tspan></text></g>
<g id="n5f"><polygon points="2148,3754 2454,3754 2462,3791 2454,3828 2148,3828 2140,3791"/><text x="2148" y="3777"><tspan x="2148">最后，真诚地祝愿公司的业绩能迅速飙升，蓬</tspan><tspan x="2148" dy="20">勃发展！祝公司的各位领导和同事都工作顺利</tspan><tspan x="2148" dy="20">！</tspan></text></g>
<g id="n5g"><polygon points="2148,3860 2177,3860 2185,3877 2177,3894 2148,3894 2140,3877"/><text x="2162" y="3883" class="m">此致</text></g>
<g id="n5h"><polygon points="2148,3929 2194,3929 2202,3946 2194,3963 2148,3963 2140,3946"/><text x="2171" y="3952" class="m">敬礼！</text></g>
<g id="n5i"><polygon points="2148,3998 2232,3998 2240,4015 2232,4032 2148,4032 2140,4015"/><text x="2190" y="4021" class="m">辞职人：xxx</text></g>
<g id="n5j"><polygon points="2148,4067 2241,4067 2249,4084 2241,4101 2148,4101 2140,4084"/><text x="2194" y="4090" class="m">20xx年x月x日</text></g>
</g>

<g class="c7">
<g id="n7a"><polygon points="2148,4134 2454,4134 2462,4201 2454,4268 2148,4268 2140,4201"/><text x="2148" y="4157"><tspan x="2148">您好!很遗憾在您最忙的时候向中心正式提出</tspan><tspan x="2148" dy="20">辞职，当您看到这封信时，我也已经不在鸿发</tspan><tspan x="2148" dy="20">上班了。来到鸿发这个大家庭也快两个月了，</tspan><tspan x="2148" dy="20">大家相处的融洽和睦，在这里有过欢笑，也有</tspan><tspan x="2148" dy="20">过痛苦。虽然经常会碰到困难，但是在此期间</tspan><tspan x="2148" dy="20">也着实学到了东西，增长了见识。</tspan></text></g>
<g id="n7b"><polygon points="2148,4303 2454,4303 2462,4370 2454,4437 2148,4437 2140,4370"/><text x="2148" y="4326"><tspan x="2148">在这一个多月的学习工作中，我确实拥有了一</tspan><tspan x="2148" dy="20">定的进步，然而工作业绩上的毫无成就让我时</tspan><tspan x="2148" dy="20">常感觉彷徨无助。我很急噪的想快点出成绩，</tspan><tspan x="2148" dy="20">但却事与愿违，所以我反思我自己是否真的要</tspan><tspan x="2148" dy="20">继续下去，反思的结果使我毅然决然的决定了</tspan><tspan x="2148" dy="20">离开。</tspan></text></g>
<g id="n7c"><polygon points="2148,4472 2454,4472 2462,4639 2454,4806 2148,4806 2140,4639"/><text x="2148" y="4495"><tspan x="2148">首先，我觉得我不能胜任目前的工作，我的人</tspan><tspan x="2148" dy="20">脉关系很薄弱，我的朋友不是在读书的就是工</tspan><tspan x="2148" dy="20">作刚刚起步，使得我每走一步都感觉异常的艰</tspan><tspan x="2148" dy="20">难。而且很多经办人也会觉得没办法信任一个</tspan><tspan x="2148" dy="20">像我这样大小的人，使得我与他们交流又产生</tspan><tspan x="2148" dy="20">问题，觉得累。很多人见了我就对我说不,这</tspan><tspan x="2148" dy="20">让我自尊心产生了极大的打击。然后，我父母</tspan><tspan x="2148" dy="20">帮我介绍了一份与所学专业对口的工作，我觉</tspan><tspan x="2148" dy="20">得较之于鸿发的工作，我更容易上手，我觉得</tspan><tspan x="2148" dy="20">我有去尝试一下的必要性。在一个多月的工作</tspan><tspan x="2148" dy="20">中，我屡次身体不适，虽然我不是个唯心主义</tspan><tspan x="2148" dy="20">者，但是也相信点运气，也许真的是我自己没</tspan><tspan x="2148" dy="20">运气来做好这样一份工作。我是名还未毕业的</tspan><tspan x="2148" dy="20">学生，交作业、升本、考警察都上了一时日程</tspan><tspan x="2148" dy="20">，我觉得太多了我承受不住，所以势必得割舍</tspan><tspan x="2148" dy="20">掉点东西。</tspan></text></g>
<g id="n7d"><polygon points="2148,4837 2454,4837 2462,4874 2454,4911 2148,4911 2140,4874"/><text x="2148" y="4860"><tspan x="2148">综上所述，在加上些琐碎的事，让我很为难的</tspan><tspan x="2148" dy="20">做了离开的决定。工作方面，我已经做好了移</tspan><tspan x="2148" dy="20">交，绝对不会影响到公司的正常运作。</tspan></text></g>
<g id="n7e"><polygon points="2148,4946 2454,4946 2462,4993 2454,5040 2148,5040 2140,4993"/><text x="2148" y="4969"><tspan x="2148">很感谢几位处长对我的友善，也很感激闸北同</tspan><tspan x="2148" dy="20">仁对我的爱戴，就算离开了鸿发行，我也不会</tspan><tspan x="2148" dy="20">忘记我的这些朋友，我的第一份正式工作。离</tspan><tspan x="2148" dy="20">开这些曾经同甘共苦的同仁，确实很舍不得。</tspan></text></g>
<g id="n7f"><polygon points="2112,5077 2220,5077 2228,5094 2220,5111 2112,5111 2104,5094"/><text x="2166" y="5100" class="m">20__年__月__日</text></g>
</g>
</g>
</svg>
